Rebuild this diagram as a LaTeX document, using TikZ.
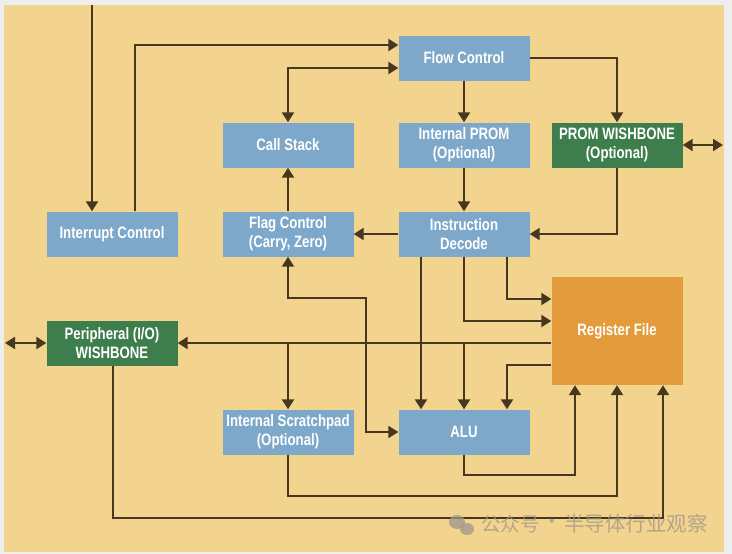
\documentclass[tikz,border=0pt]{standalone}
\usepackage{fontspec}
\setmainfont[FakeStretch=0.8]{Liberation Sans}
\newfontfamily\cjk{Noto Sans CJK SC}
\usetikzlibrary{arrows.meta}
\definecolor{bgout}{HTML}{EEEEEE}
\definecolor{beige}{HTML}{F2D48E}
\definecolor{boxblue}{HTML}{7DA8C9}
\definecolor{boxgreen}{HTML}{3E7E4C}
\definecolor{boxorange}{HTML}{E39B3B}
\definecolor{wire}{HTML}{45381F}
\definecolor{wmark}{HTML}{9E968A}
\tikzset{
  blk/.style={rectangle, minimum width=131pt, minimum height=45pt, inner sep=0pt,
    fill=boxblue, text=white, align=center, font=\fontsize{16.5}{19}\selectfont\bfseries},
  gblk/.style={blk, fill=boxgreen},
  oblk/.style={blk, fill=boxorange, minimum height=108pt},
  wirestyle/.style={draw=wire, line width=2.2pt},
  arr/.style={wirestyle, -{Triangle[length=10pt,width=12pt]}},
  arrb/.style={wirestyle, {Triangle[length=10pt,width=12pt]}-{Triangle[length=10pt,width=12pt]}},
}
\begin{document}
\begin{tikzpicture}[x=1pt,y=-1pt]
\useasboundingbox (0,0) rectangle (732,554);
\fill[bgout] (0,0) rectangle (732,554);
\fill[beige] (4,5) rectangle (724,552);
% nodes
\node[blk] (flow) at (464,58) {Flow Control};
\node[blk] (prom) at (464,145) {Internal PROM\\(Optional)};
\node[gblk] (pwb) at (617,145) {PROM WISHBONE\\(Optional)};
\node[blk] (dec) at (464,234) {Instruction\\Decode};
\node[blk] (cs) at (288,145) {Call Stack};
\node[blk] (ic) at (112,234) {Interrupt Control};
\node[blk] (fc) at (288,234) {Flag Control\\(Carry, Zero)};
\node[oblk] (rf) at (617,331) {Register File};
\node[gblk] (per) at (112,343) {Peripheral (I/O)\\WISHBONE};
\node[blk] (sp) at (288,432) {Internal Scratchpad\\(Optional)};
\node[blk] (alu) at (464,432) {ALU};
% helper coordinates
\coordinate (topin) at (92,5);
\coordinate (pwbout) at (723,145);
\coordinate (perout) at (5,343);
\coordinate (c113) at (113,0);
\coordinate (c135) at (135,0);
\coordinate (c288) at (288,0);
\coordinate (c366) at (366,0);
\coordinate (c421) at (421,0);
\coordinate (c464) at (464,0);
\coordinate (c507) at (507,0);
\coordinate (c575) at (575,0);
\coordinate (c663) at (663,0);
\coordinate (y45) at (0,45);
\coordinate (y68) at (0,68);
\coordinate (y298) at (0,298);
\coordinate (y299) at (0,299);
\coordinate (y321) at (0,321);
\coordinate (y343) at (0,343);
\coordinate (y365) at (0,365);
\coordinate (y475) at (0,475);
\coordinate (y496) at (0,496);
\coordinate (y518) at (0,518);
% connectors
\draw[arr] (topin) -- (topin |- ic.north);
\draw[arr] (c135 |- ic.north) |- (flow.west |- y45);
\draw[arrb] (cs.north) |- (flow.west |- y68);
\draw[arr] (flow.south) -- (prom.north);
\draw[arr] (flow.east) -| (pwb.north);
\draw[arrb] (pwb.east) -- (pwbout);
\draw[arr] (prom.south) -- (dec.north);
\draw[arr] (pwb.south) |- (dec.east);
\draw[arr] (dec.west) -- (fc.east);
\draw[arr] (fc.north) -- (cs.south);
\draw[arrb] (fc.south) |- (c366 |- y298) |- (alu.west);
\draw[arr] (c421 |- dec.south) -- (c421 |- alu.north);
\draw[arr] (dec.south) |- (rf.west |- y321);
\draw[arr] (c507 |- dec.south) |- (rf.west |- y299);
\draw[arr] (rf.west |- y343) -- (per.east);
\draw[arr] (c288 |- y343) -- (sp.north);
\draw[arr] (c464 |- y343) -- (alu.north);
\draw[arr] (rf.west |- y365) -| (c507 |- alu.north);
\draw[arrb] (per.west) -- (perout);
\draw[arr] (alu.south) |- (c575 |- y475) -- (c575 |- rf.south);
\draw[arr] (sp.south) |- (pwb.south |- y496) -- (pwb.south |- rf.south);
\draw[arr] (c113 |- per.south) |- (c663 |- y518) -- (c663 |- rf.south);
% watermark
\begin{scope}[opacity=0.75]
\fill[wmark] (457,522) ellipse (8pt and 7pt);
\fill[wmark] (467,529) ellipse (7pt and 6pt);
\node[anchor=west, inner sep=0pt, text=wmark, font=\cjk\fontsize{19.5}{21}\selectfont] (wm1) at (481,524) {公众号};
\node[inner sep=0pt, text=wmark, font=\cjk\fontsize{19.5}{21}\selectfont] (wm2) at (552,524) {·};
\node[anchor=west, inner sep=0pt, text=wmark, font=\cjk\fontsize{20.5}{22}\selectfont] (wm3) at (564,524) {半导体行业观察};
\end{scope}
\end{tikzpicture}
\end{document}
